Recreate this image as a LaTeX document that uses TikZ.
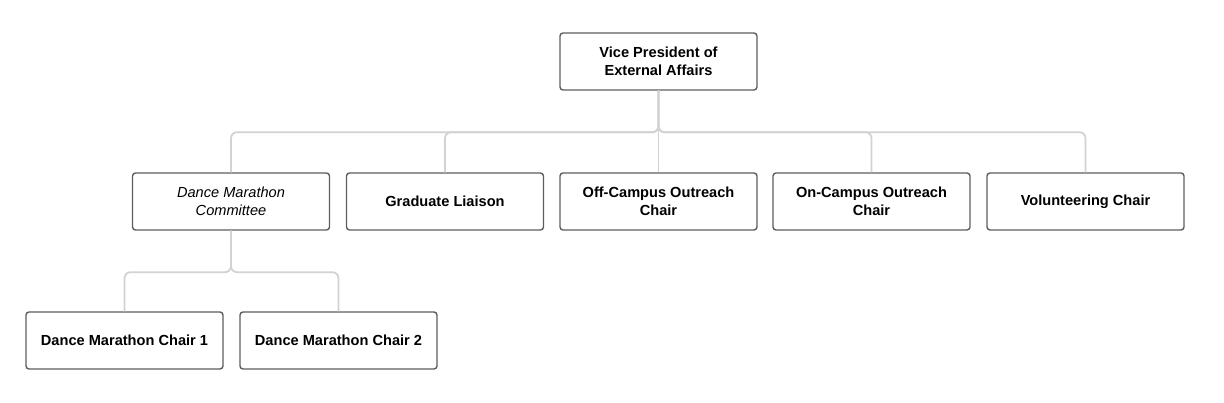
\documentclass[tikz,border=0pt]{standalone}
\usepackage{fontspec}
\setmainfont{Liberation Sans}
\definecolor{boxline}{HTML}{5E5E5E}
\definecolor{linkline}{HTML}{D2D2D2}

\begin{document}
\begin{tikzpicture}
  [x=1pt,y=-1pt,every node/.style={draw=boxline,line width=1.4pt,rounded corners=3pt,
   fill=white,minimum width=197pt,minimum height=57pt,align=center,
   font=\fontsize{14.6pt}{18pt}\selectfont\bfseries}]
  \useasboundingbox (0,0) rectangle (1224,403);
  \node (vp) at (658.5,61.5) {Vice President of\\External Affairs};
  \node (dmc) at (231,201.5) {\mdseries\itshape Dance Marathon\\\mdseries\itshape Committee};
  \node (gl) at (445,201.5)  {Graduate Liaison};
  \node (off) at (658.5,201.5)  {Off-Campus Outreach\\Chair};
  \node (on) at (871.5,201.5) {On-Campus Outreach\\Chair};
  \node (vol) at (1085.5,201.5)  {Volunteering Chair};
  \node (dm1) at (124.5,340.5)  {Dance Marathon Chair 1};
  \node (dm2) at (338.5,340.5)  {Dance Marathon Chair 2};

  \foreach \from/\to in {vp/dmc,vp/gl,vp/off,vp/on,vp/vol,dmc/dm1,dmc/dm2}
    \draw[linkline,line width=1.8pt,rounded corners=6pt] (\from.south) -- ++(0,41.5) -| (\to.north);

\end{tikzpicture}
\end{document}
